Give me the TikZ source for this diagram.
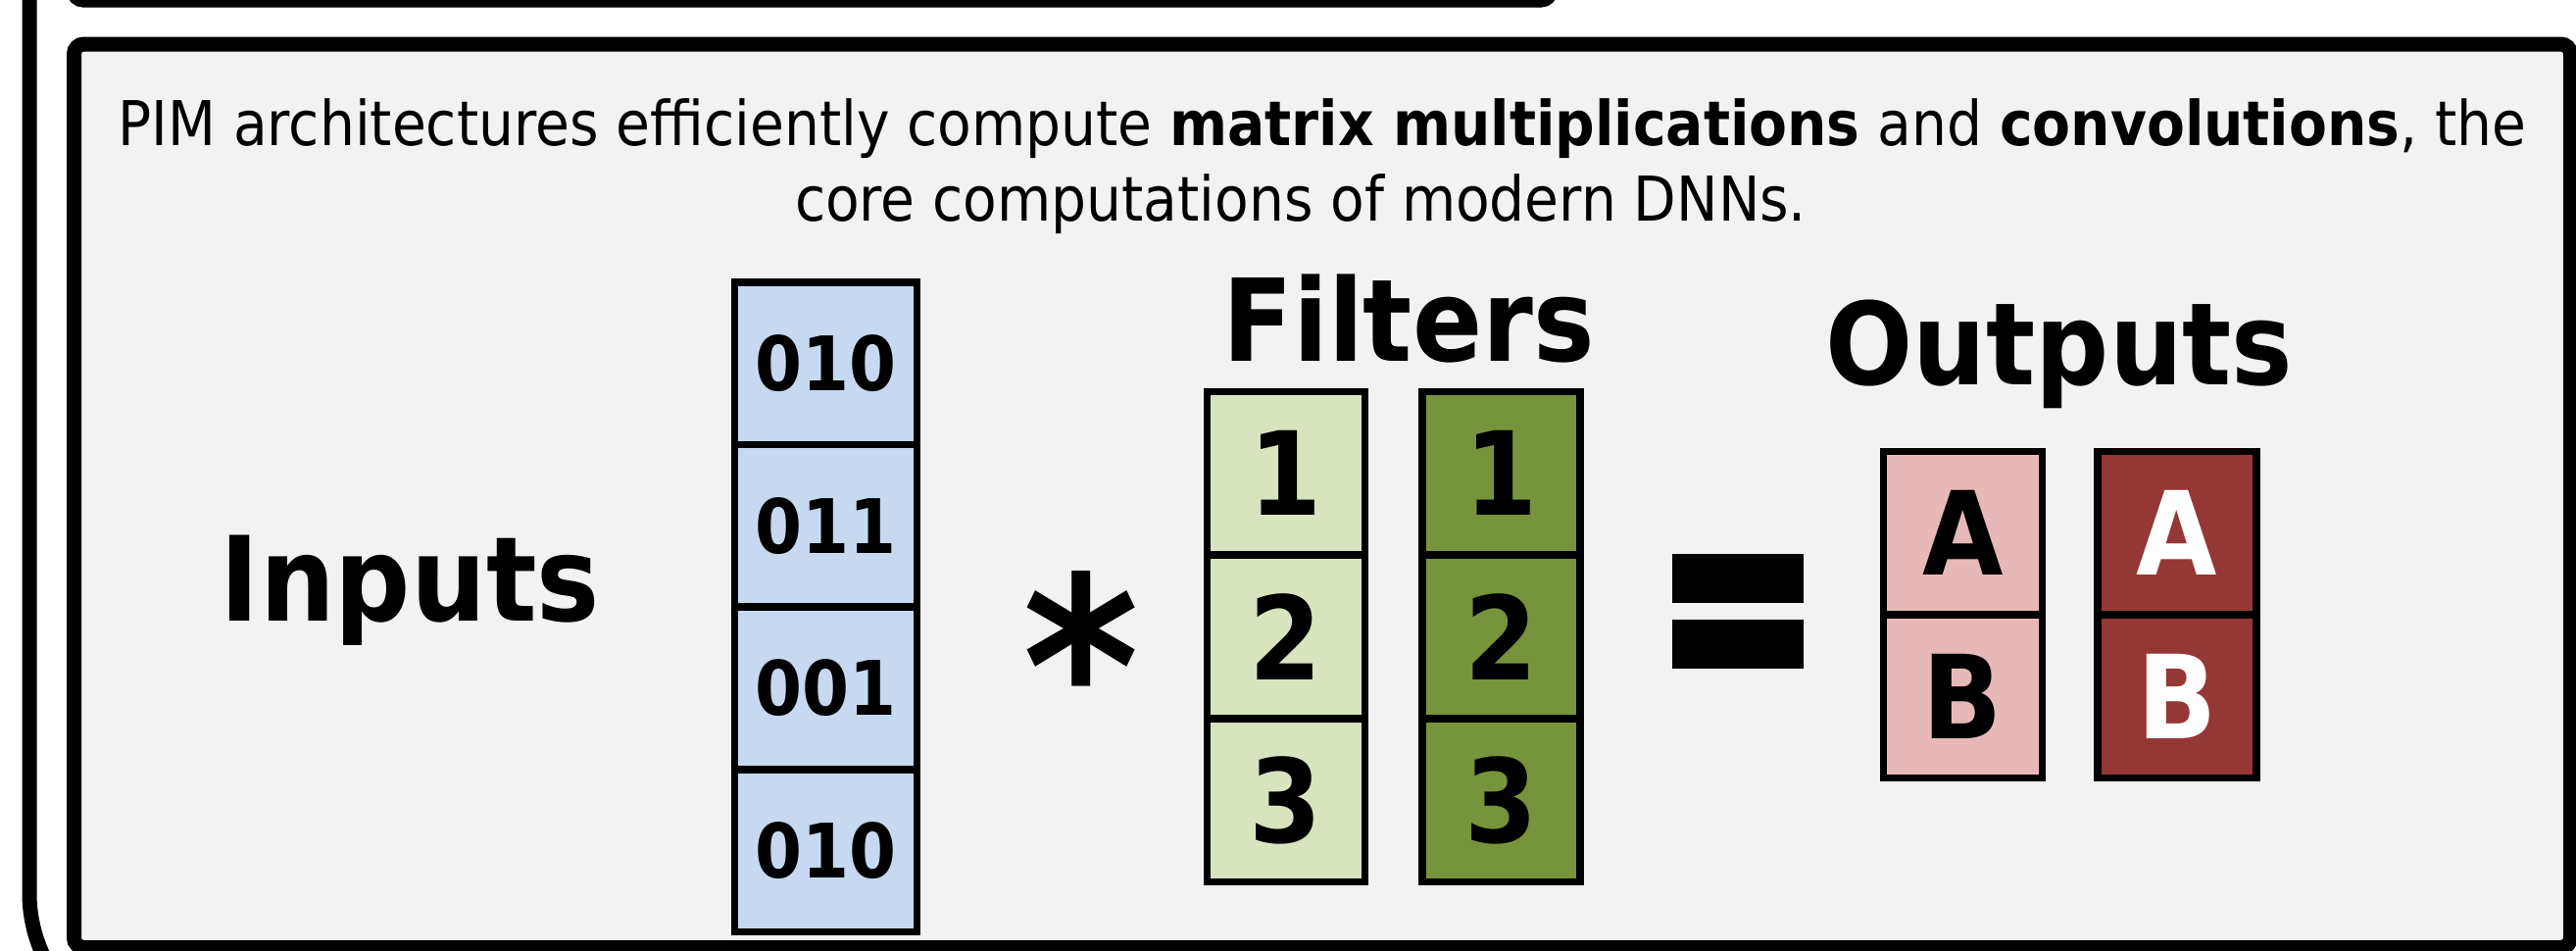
\documentclass[tikz,border=0pt]{standalone}
\usepackage{fontspec}
\setmainfont{DejaVuSansCondensed}[Extension=.ttf, BoldFont=DejaVuSansCondensed-Bold]
\usetikzlibrary{shadows}
\definecolor{panel}{HTML}{F2F2F2}
\definecolor{inblue}{HTML}{C6D9F1}
\definecolor{fltlight}{HTML}{D7E4BD}
\definecolor{fltdark}{HTML}{77933C}
\definecolor{outlight}{HTML}{E6B9B8}
\definecolor{outdark}{HTML}{953735}
\tikzset{
  frame/.style={draw=black, line width=4.5pt},
  cell/.style={draw=black, line width=2.3pt, inner sep=0pt, outer sep=0pt},
  incell/.style={cell, fill=inblue, minimum width=55.8pt, minimum height=49.68pt,
    font=\bfseries\fontsize{23pt}{24pt}\selectfont},
  fltcell/.style={cell, minimum width=48.3pt, minimum height=50pt,
    font=\bfseries\fontsize{35.5pt}{36pt}\selectfont},
  outcell/.style={cell, minimum width=48.6pt, minimum height=49.95pt,
    font=\bfseries\fontsize{35.5pt}{36pt}\selectfont},
  biglabel/.style={anchor=base, inner sep=0pt, font=\bfseries\fontsize{35pt}{36pt}\selectfont},
  bodytext/.style={anchor=base, inner sep=0pt, font=\fontsize{18.9pt}{23pt}\selectfont},
  eqbar/.style={fill=black, inner sep=0pt, minimum width=40.2pt, minimum height=15pt}
}
\begin{document}
\begin{tikzpicture}[x=0.3pt, y=-0.3pt]
\useasboundingbox (0,0) rectangle (2628,969);
\clip (0,0) rectangle (2628,969);

% outer rounded frame, only its left side shows
\draw[frame, rounded corners=45pt] (30,-80) -- (30,1061) -- (700,1061);

% panel above, only its lower edge shows
\draw[frame, fill=white, rounded corners=3pt,
  drop shadow={shadow xshift=0.5pt, shadow yshift=-1.2pt, opacity=0.35}]
  (75,-300) rectangle (1582,0);

% main panel
\draw[frame, fill=panel, rounded corners=3pt] (75.5,45) rectangle (2622.5,966.5);

% caption
\node[bodytext] (cap1) at (1349,148)
  {PIM architectures efficiently compute \textbf{matrix multiplications} and \textbf{convolutions}, the};
\node[bodytext] (cap2) at (1327,225) {core computations of modern DNNs.};

% labels
\node[biglabel, font=\bfseries\fontsize{36pt}{36pt}\selectfont] (inlabel) at (418.5,633) {Inputs};
\node[biglabel] (fltlabel) at (1437,368) {Filters};
\node[biglabel] (outlabel) at (2101,392) {Outputs};

% input vector
\node[incell] (in1) at (842.5,370.8) {010};
\node[incell] (in2) at (842.5,536.4) {011};
\node[incell] (in3) at (842.5,702.0) {001};
\node[incell] (in4) at (842.5,867.6) {010};

% convolution operator
\node[anchor=base, inner sep=0pt, font=\bfseries\fontsize{76pt}{76pt}\selectfont] (conv) at (1103,770) {*};

% filters
\node[fltcell, fill=fltlight] (fa1) at (1312,482.8) {1};
\node[fltcell, fill=fltlight] (fa2) at (1312,649.5) {2};
\node[fltcell, fill=fltlight] (fa3) at (1312,816.2) {3};
\node[fltcell, fill=fltdark] (fb1) at (1531.5,482.8) {1};
\node[fltcell, fill=fltdark] (fb2) at (1531.5,649.5) {2};
\node[fltcell, fill=fltdark] (fb3) at (1531.5,816.2) {3};

% equals sign
\node[eqbar] (eqtop) at (1773,590) {};
\node[eqbar] (eqbot) at (1773,657) {};

% outputs
\node[outcell, fill=outlight] (oa1) at (2002.5,543.75) {A};
\node[outcell, fill=outlight] (oa2) at (2002.5,710.25) {B};
\node[outcell, fill=outdark, text=white] (ob1) at (2221,543.75) {A};
\node[outcell, fill=outdark, text=white] (ob2) at (2221,710.25) {B};
\end{tikzpicture}
\end{document}
